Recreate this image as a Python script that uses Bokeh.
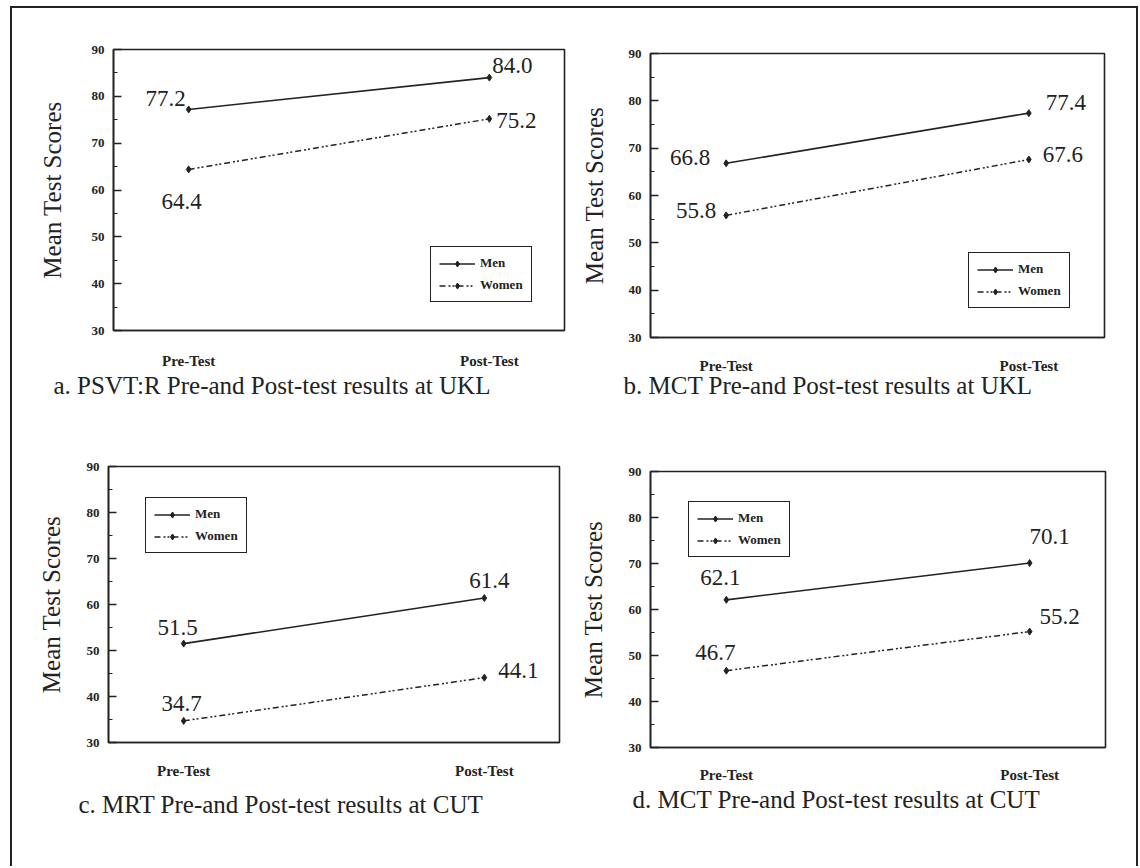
from bokeh.plotting import figure
from bokeh.models import (Range1d, FixedTicker, SingleIntervalTicker, Legend, LegendItem,
                          Title, ColumnDataSource, Div)
from bokeh.embed import file_html
from bokeh.resources import INLINE
from bokeh.core.properties import value

# ---------------- data ----------------
categories = ["Pre-Test", "Post-Test"]
series_names = ["Men", "Women"]
y_label = "Mean Test Scores"

captions = [
    "a. PSVT:R Pre-and Post-test results at UKL",
    "b. MCT Pre-and Post-test results at UKL",
    "c. MRT Pre-and Post-test results at CUT",
    "d. MCT Pre-and Post-test results at CUT",
]
men_psvtr_ukl = [77.2, 84.0]
women_psvtr_ukl = [64.4, 75.2]
men_mct_ukl = [66.8, 77.4]
women_mct_ukl = [55.8, 67.6]
men_mrt_cut = [51.5, 61.4]
women_mrt_cut = [34.7, 44.1]
men_mct_cut = [62.1, 70.1]
women_mct_cut = [46.7, 55.2]

y_min, y_max, y_step = 30, 90, 10

# ---------------- layout / style (not data) ----------------
INK = "#222222"
SERIF = "Liberation Serif"
FIG_W, FIG_H = 562, 426

panels = [
    dict(men=men_psvtr_ukl, women=women_psvtr_ukl, cap=captions[0], pos=(11, 7),
         left=102, top=42, fw=451, fh=281, ylab_standoff=23, xlab_standoff=16,
         cap_off=-60, cap_standoff=-4,
         leg=(317, 28), men_off=[(-23, -11), (23, -12)], women_off=[(-7, 32), (27, 2)]),
    dict(men=men_mct_ukl, women=women_mct_ukl, cap=captions[1], pos=(573, 7),
         left=77, top=46, fw=454, fh=284, ylab_standoff=18, xlab_standoff=14,
         cap_off=-27, cap_standoff=-14,
         leg=(318, 29), men_off=[(-36, -6), (37, -11)], women_off=[(-30, -5), (34, -5)]),
    dict(men=men_mrt_cut, women=women_mrt_cut, cap=captions[2], pos=(11, 433),
         left=97, top=33, fw=451, fh=276, ylab_standoff=19, xlab_standoff=14,
         cap_off=-30, cap_standoff=14,
         leg=(37, 189), men_off=[(-6, -16), (5, -18)], women_off=[(-2, -17), (34, -7)]),
    dict(men=men_mct_cut, women=women_mct_cut, cap=captions[3], pos=(573, 433),
         left=77, top=38, fw=455, fh=276, ylab_standoff=19, xlab_standoff=13,
         cap_off=-18, cap_standoff=-3,
         leg=(38, 190), men_off=[(-6, -22), (20, -27)], women_off=[(-11, -18), (30, -15)]),
]


def make_panel(cfg):
    xs = list(range(len(categories)))
    p = figure(frame_width=cfg["fw"], frame_height=cfg["fh"],
               x_range=Range1d(-0.25, len(categories) - 0.75),
               y_range=Range1d(y_min, y_max),
               output_backend="svg", toolbar_location=None,
               min_border_left=cfg["left"], min_border_top=cfg["top"],
               min_border_right=FIG_W - cfg["left"] - cfg["fw"],
               min_border_bottom=FIG_H - cfg["top"] - cfg["fh"],
               background_fill_color="white", border_fill_color="white",
               styles={"position": "absolute", "left": f"{cfg['pos'][0]}px",
                       "top": f"{cfg['pos'][1]}px"})
    p.xgrid.visible = False
    p.ygrid.visible = False
    p.outline_line_color = INK
    p.outline_line_width = 1.6
    p.outline_line_alpha = 1.0

    # y axis
    ya = p.yaxis[0]
    ya.ticker = SingleIntervalTicker(interval=y_step, num_minor_ticks=2)
    ya.axis_line_color = INK
    ya.axis_line_width = 1.6
    ya.major_tick_in = 8
    ya.major_tick_out = 0
    ya.minor_tick_in = 4
    ya.minor_tick_out = 0
    ya.major_tick_line_color = INK
    ya.minor_tick_line_color = INK
    ya.major_tick_line_width = 1.3
    ya.major_label_standoff = 9
    ya.major_label_text_font = SERIF
    ya.major_label_text_font_style = "bold"
    ya.major_label_text_font_size = "13px"
    ya.major_label_text_color = INK
    ya.axis_label = y_label
    ya.axis_label_text_font = SERIF
    ya.axis_label_text_font_style = "normal"
    ya.axis_label_text_font_size = "25px"
    ya.axis_label_text_color = INK
    ya.axis_label_standoff = cfg["ylab_standoff"]

    # x axis
    xa = p.xaxis[0]
    xa.ticker = FixedTicker(ticks=xs)
    xa.major_label_overrides = {i: c for i, c in zip(xs, categories)}
    xa.axis_line_color = INK
    xa.axis_line_width = 1.6
    xa.major_tick_line_color = None
    xa.minor_tick_line_color = None
    xa.major_label_standoff = cfg["xlab_standoff"]
    xa.major_label_text_font = SERIF
    xa.major_label_text_font_style = "bold"
    xa.major_label_text_font_size = "15px"
    xa.major_label_text_color = INK

    # caption
    p.add_layout(Title(text=cfg["cap"], align="left", offset=cfg["cap_off"],
                       text_font=SERIF, text_font_size="25px",
                       text_font_style="normal", text_color=INK,
                       standoff=cfg["cap_standoff"]), "below")

    # series
    lm = p.line(xs, cfg["men"], line_color=INK, line_width=1.6)
    sm = p.scatter(xs, cfg["men"], marker="diamond", size=7, color=INK)
    lw = p.line(xs, cfg["women"], line_color=INK, line_width=1.5, line_dash="6 3 2 2 2 3")
    sw = p.scatter(xs, cfg["women"], marker="diamond", size=7, color=INK)

    # value labels
    for vals, offs in ((cfg["men"], cfg["men_off"]), (cfg["women"], cfg["women_off"])):
        src = ColumnDataSource(dict(
            x=xs, y=vals, t=[f"{v:.1f}" for v in vals],
            dx=[o[0] for o in offs], dy=[o[1] for o in offs]))
        p.text(x="x", y="y", text="t", x_offset="dx", y_offset="dy", source=src,
               text_align="center", text_baseline="middle",
               text_font=value(SERIF), text_font_size="23px", text_color=INK)

    leg = Legend(items=[LegendItem(label=series_names[0], renderers=[lm, sm]),
                        LegendItem(label=series_names[1], renderers=[lw, sw])],
                 location=cfg["leg"], orientation="vertical")
    leg.border_line_color = INK
    leg.border_line_width = 1.5
    leg.border_line_alpha = 1.0
    leg.background_fill_color = "white"
    leg.background_fill_alpha = 1.0
    leg.label_text_font = SERIF
    leg.label_text_font_style = "bold"
    leg.label_text_font_size = "13px"
    leg.label_text_color = INK
    leg.glyph_width = 36
    leg.glyph_height = 15
    leg.label_height = 15
    leg.label_standoff = 5
    leg.padding = 8
    leg.spacing = 6
    leg.margin = 0
    p.add_layout(leg)
    return p


figs = [make_panel(c) for c in panels]
frame_div = Div(text="", width=1124, height=858,
                styles={"position": "absolute", "left": "5px", "top": "1px",
                        "border-top": "2px solid #222", "border-left": "2px solid #222",
                        "border-right": "2px solid #222", "box-sizing": "content-box",
                        "background": "transparent", "pointer-events": "none"})

with open("out.html", "w") as f:
    f.write(file_html(figs + [frame_div], INLINE))
